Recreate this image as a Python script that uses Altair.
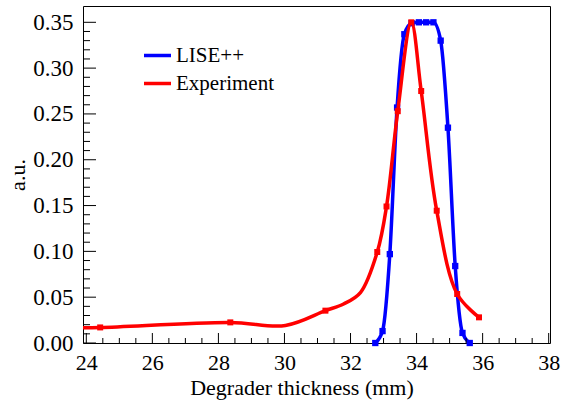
import altair as alt
import pandas as pd

# LISE++ simulation (points with markers)
lise_x = [32.75, 32.97, 33.19, 33.41, 33.63, 33.85, 34.07, 34.29, 34.51, 34.73, 34.95, 35.17, 35.39, 35.61]
lise_y = [0.000, 0.013, 0.097, 0.257, 0.337, 0.349, 0.350, 0.350, 0.350, 0.330, 0.235, 0.084, 0.011, 0.000]

# Experiment (points with markers)
exp_x = [24.42, 28.36, 31.24, 32.81, 33.09, 33.43, 33.84, 34.14, 34.61, 35.23, 35.89]
exp_y = [0.0170, 0.0225, 0.0353, 0.0993, 0.149, 0.253, 0.350, 0.275, 0.1444, 0.0535, 0.028]

# extra vertices (no markers)
exp_curve_x = [23.5, 30.03, 31.79, 32.30]
exp_curve_y = [0.0168, 0.0192, 0.0426, 0.0550]

series_names = ["LISE++", "Experiment"]
series_colors = ["#0000ff", "#ff0000"]

x_major = [24, 26, 28, 30, 32, 34, 36, 38]
x_minor = [24.5, 25, 25.5, 26.5, 27, 27.5, 28.5, 29, 29.5, 30.5, 31, 31.5,
           32.5, 33, 33.5, 34.5, 35, 35.5, 36.5, 37, 37.5]
y_major = [0.0, 0.05, 0.10, 0.15, 0.20, 0.25, 0.30, 0.35]
y_minor = [0.01, 0.02, 0.03, 0.04, 0.06, 0.07, 0.08, 0.09, 0.11, 0.12, 0.13, 0.14,
           0.16, 0.17, 0.18, 0.19, 0.21, 0.22, 0.23, 0.24, 0.26, 0.27, 0.28, 0.29,
           0.31, 0.32, 0.33, 0.34]

FONT = "Liberation Serif"
W, H = 467, 337

lise_df = pd.DataFrame({"x": lise_x, "y": lise_y, "series": series_names[0]})
exp_df = pd.DataFrame({"x": exp_x, "y": exp_y, "series": series_names[1]})
exp_line_df = pd.concat([
    exp_df,
    pd.DataFrame({"x": exp_curve_x, "y": exp_curve_y, "series": series_names[1]}),
], ignore_index=True).sort_values("x")

xscale = alt.Scale(domain=[23.9, 38.04], nice=False, zero=False)
yscale = alt.Scale(domain=[0, 0.3678], nice=False, zero=False)
cscale = alt.Scale(domain=series_names, range=series_colors)

xaxis = alt.Axis(values=x_major, format="d", title="Degrader thickness (mm)")
yaxis = alt.Axis(values=y_major, format=".2f", title="a.u.")

X = alt.X("x:Q", scale=xscale, axis=xaxis)
Y = alt.Y("y:Q", scale=yscale, axis=yaxis)

blue_line = alt.Chart(lise_df).mark_line(
    strokeWidth=3.5, interpolate="monotone", clip=True
).encode(x=X, y=Y, color=alt.Color("series:N", scale=cscale, title=None))
blue_pts = alt.Chart(lise_df).mark_square(
    size=40, opacity=1, color=series_colors[0]
).encode(x=X, y=Y)
red_line = alt.Chart(exp_line_df).mark_line(
    strokeWidth=3.5, interpolate="catmull-rom", clip=True
).encode(x=X, y=Y, color=alt.Color("series:N", scale=cscale, title=None),
         order=alt.Order("x:Q"))
red_pts = alt.Chart(exp_df).mark_square(
    size=36, opacity=1, color=series_colors[1]
).encode(x=X, y=Y)

xmaj = alt.Chart(pd.DataFrame({"x": x_major})).mark_rule(color="black", strokeWidth=1).encode(
    x=X, y=alt.value(H), y2=alt.value(H - 10))
xmin = alt.Chart(pd.DataFrame({"x": x_minor})).mark_rule(color="black", strokeWidth=1).encode(
    x=X, y=alt.value(H), y2=alt.value(H - 5))
ymaj = alt.Chart(pd.DataFrame({"y": y_major})).mark_rule(color="black", strokeWidth=1).encode(
    y=Y, x=alt.value(0), x2=alt.value(13))
ymin = alt.Chart(pd.DataFrame({"y": y_minor})).mark_rule(color="black", strokeWidth=1).encode(
    y=Y, x=alt.value(0), x2=alt.value(7))

chart = alt.layer(
    blue_line, blue_pts, red_line, red_pts, xmaj, xmin, ymaj, ymin
).properties(
    width=W, height=H,
    autosize=alt.AutoSizeParams(type="none"),
    padding={"left": 83, "top": 6, "right": 11, "bottom": 59},
    background="white",
).configure_view(
    stroke="black", strokeWidth=1
).configure_axis(
    labelFont=FONT, labelFontSize=23, labelColor="black",
    labelFlush=False, labelOverlap=False,
    ticks=False, domain=False, grid=False,
    titleFont=FONT, titleFontSize=22, titleFontWeight="normal", titleColor="black",
).configure_axisX(
    labelFontSize=22, labelPadding=9,
    titleX=218.5, titleY=51, titleAlign="center", titleBaseline="alphabetic",
).configure_axisY(
    labelPadding=10,
    titleX=-66, titleY=168.5, titleAngle=270, titleAlign="center", titleBaseline="middle",
).configure_legend(
    orient="none", legendX=59, legendY=34, padding=0,
    symbolType="stroke", symbolSize=729, symbolStrokeWidth=3.5,
    labelFont=FONT, labelFontSize=21, labelColor="black", labelOffset=3,
    rowPadding=2, labelLimit=0,
)

chart.save("out.html", embed_options={"renderer": "svg", "actions": False})
